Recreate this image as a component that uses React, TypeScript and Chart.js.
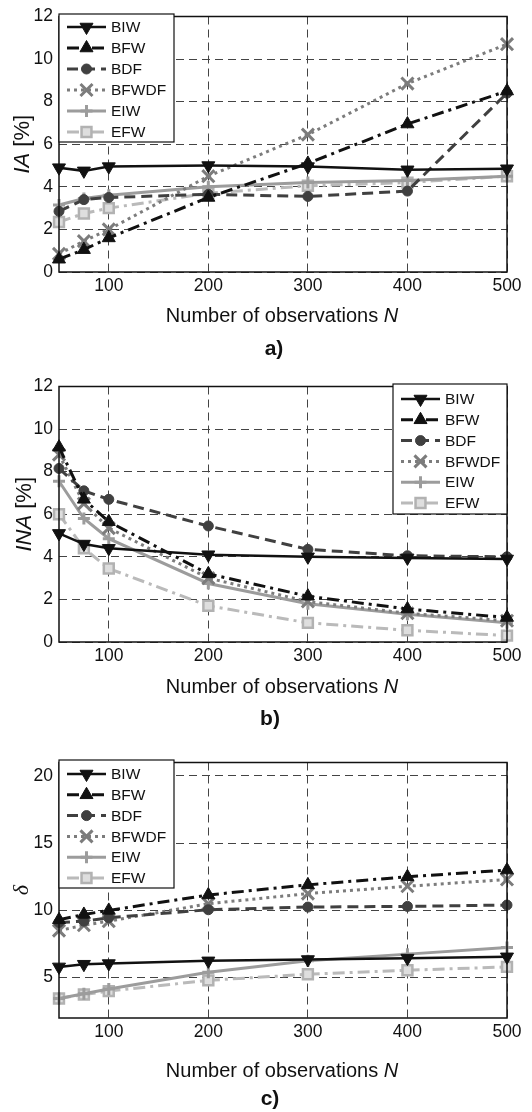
import React, { useEffect, useRef } from "react";
import { Chart, registerables } from "chart.js";

Chart.register(...registerables);

// ---------- DATA ----------
const N_VALUES = [50, 75, 100, 200, 300, 400, 500];
const X_TICKS = [100, 200, 300, 400, 500];
const SERIES_NAMES = ["BIW", "BFW", "BDF", "BFWDF", "EIW", "EFW"];

// a) IA [%]
const IA_BIW = [4.9, 4.75, 4.95, 5.0, 4.95, 4.8, 4.85];
const IA_BFW = [0.6, 1.05, 1.6, 3.5, 5.1, 6.95, 8.5];
const IA_BDF = [2.85, 3.4, 3.5, 3.65, 3.55, 3.8, 8.4];
const IA_BFWDF = [0.85, 1.45, 2.0, 4.5, 6.45, 8.85, 10.7];
const IA_EIW = [3.15, 3.45, 3.6, 4.0, 4.2, 4.3, 4.5];
const IA_EFW = [2.35, 2.75, 3.0, 3.7, 4.05, 4.2, 4.5];
const IA_TICKS = [0, 2, 4, 6, 8, 10, 12];

// b) INA [%]
const INA_BIW = [5.1, 4.6, 4.4, 4.1, 4.0, 3.95, 3.9];
const INA_BFW = [9.15, 6.7, 5.65, 3.2, 2.15, 1.55, 1.15];
const INA_BDF = [8.15, 7.1, 6.7, 5.45, 4.35, 4.05, 4.0];
const INA_BFWDF = [8.8, 6.5, 5.35, 3.0, 1.9, 1.35, 1.0];
const INA_EIW = [7.55, 5.8, 4.85, 2.75, 1.8, 1.3, 0.9];
const INA_EFW = [6.0, 4.4, 3.45, 1.7, 0.9, 0.55, 0.3];
const INA_TICKS = [0, 2, 4, 6, 8, 10, 12];

// c) delta
const D_BIW = [5.8, 6.0, 6.05, 6.25, 6.35, 6.45, 6.55];
const D_BFW = [9.3, 9.7, 10.0, 11.15, 11.9, 12.5, 13.0];
const D_BDF = [9.1, 9.2, 9.45, 10.05, 10.25, 10.3, 10.4];
const D_BFWDF = [8.5, 8.9, 9.2, 10.5, 11.25, 11.8, 12.3];
const D_EIW = [3.45, 3.8, 4.15, 5.4, 6.25, 6.75, 7.25];
const D_EFW = [3.45, 3.75, 4.0, 4.8, 5.25, 5.55, 5.8];
const D_TICKS = [5, 10, 15, 20];

// ---------- STYLES ----------
const FONT = "'Liberation Sans', Arial, Helvetica, sans-serif";
const STYLES = [
  { color: "#111", width: 2.5, dash: [], point: "triangle", rotation: 180, radius: 7.5, fill: "#111", pointColor: "#111", pointBorder: 1 },
  { color: "#111", width: 3, dash: [12, 5, 3, 5], point: "triangle", rotation: 0, radius: 7.5, fill: "#111", pointColor: "#111", pointBorder: 1 },
  { color: "#404040", width: 3, dash: [11, 6], point: "circle", rotation: 0, radius: 5, fill: "#404040", pointColor: "#404040", pointBorder: 1 },
  { color: "#7c7c7c", width: 3, dash: [3, 4], point: "crossRot", rotation: 0, radius: 8.5, fill: "#7c7c7c", pointColor: "#7c7c7c", pointBorder: 3 },
  { color: "#9c9c9c", width: 3, dash: [], point: "cross", rotation: 0, radius: 6, fill: "#9c9c9c", pointColor: "#9c9c9c", pointBorder: 3 },
  { color: "#bababa", width: 3, dash: [12, 5, 3, 5], point: "rect", rotation: 0, radius: 7, fill: "#dedede", pointColor: "#b2b2b2", pointBorder: 2.5 },
];

function drawMarker(ctx: CanvasRenderingContext2D, s: any, x: number, y: number) {
  ctx.save();
  ctx.setLineDash([]);
  ctx.strokeStyle = s.pointColor;
  ctx.fillStyle = s.fill;
  ctx.lineWidth = s.pointBorder;
  const r = s.radius;
  ctx.beginPath();
  if (s.point === "triangle") {
    const rot = (s.rotation * Math.PI) / 180;
    for (let k = 0; k < 3; k++) {
      const a = rot + (k * 2 * Math.PI) / 3;
      const px = x + Math.sin(a) * r;
      const py = y - Math.cos(a) * r;
      if (k === 0) ctx.moveTo(px, py);
      else ctx.lineTo(px, py);
    }
    ctx.closePath();
    ctx.fill();
    ctx.stroke();
  } else if (s.point === "circle") {
    ctx.arc(x, y, r, 0, Math.PI * 2);
    ctx.fill();
    ctx.stroke();
  } else if (s.point === "rect") {
    const h = r * Math.SQRT1_2;
    ctx.rect(x - h, y - h, 2 * h, 2 * h);
    ctx.fill();
    ctx.stroke();
  } else if (s.point === "cross") {
    ctx.moveTo(x - r, y);
    ctx.lineTo(x + r, y);
    ctx.moveTo(x, y - r);
    ctx.lineTo(x, y + r);
    ctx.stroke();
  } else if (s.point === "crossRot") {
    const d = r * Math.SQRT1_2;
    ctx.moveTo(x - d, y - d);
    ctx.lineTo(x + d, y + d);
    ctx.moveTo(x + d, y - d);
    ctx.lineTo(x - d, y + d);
    ctx.stroke();
  }
  ctx.restore();
}

type Panel = {
  key: string;
  top: number;
  height: number;
  series: number[][];
  yMin: number;
  yMax: number;
  yTicks: number[];
  yTitleParts: { text: string; italic: boolean; serif?: boolean }[];
  yTitleX: number;
  legend: { x: number; y: number; w: number; h: number; row0: number; step: number };
  titleY: number;
  label: string;
  labelX: number;
  labelY: number;
};

const PANELS: Panel[] = [
  {
    key: "a", top: 0, height: 370,
    series: [IA_BIW, IA_BFW, IA_BDF, IA_BFWDF, IA_EIW, IA_EFW],
    yMin: 0, yMax: 12, yTicks: IA_TICKS,
    yTitleParts: [{ text: "IA", italic: true }, { text: " [%]", italic: false }],
    yTitleX: 23,
    legend: { x: 59, y: 14, w: 115, h: 128, row0: 27, step: 21 },
    titleY: 322, label: "a)", labelX: 274, labelY: 355,
  },
  {
    key: "b", top: 370, height: 376,
    series: [INA_BIW, INA_BFW, INA_BDF, INA_BFWDF, INA_EIW, INA_EFW],
    yMin: 0, yMax: 12, yTicks: INA_TICKS,
    yTitleParts: [{ text: "INA", italic: true }, { text: " [%]", italic: false }],
    yTitleX: 25,
    legend: { x: 393, y: 14, w: 114, h: 130, row0: 29, step: 20.8 },
    titleY: 323, label: "b)", labelX: 270, labelY: 355,
  },
  {
    key: "c", top: 746, height: 366,
    series: [D_BIW, D_BFW, D_BDF, D_BFWDF, D_EIW, D_EFW],
    yMin: 2, yMax: 21, yTicks: D_TICKS,
    yTitleParts: [{ text: "δ", italic: true, serif: true }],
    yTitleX: 22,
    legend: { x: 59, y: 14, w: 115, h: 128, row0: 28, step: 20.8 },
    titleY: 331, label: "c)", labelX: 270, labelY: 359,
  },
];

function makeDecor(p: Panel) {
  return {
    id: "decor_" + p.key,
    afterDatasetsDraw(chart: any) {
      const ctx: CanvasRenderingContext2D = chart.ctx;
      const a = chart.chartArea;
      // frame
      ctx.save();
      ctx.setLineDash([]);
      ctx.strokeStyle = "#111";
      ctx.lineWidth = 1.5;
      ctx.strokeRect(a.left, a.top, a.right - a.left, a.bottom - a.top);
      // legend
      const L = p.legend;
      ctx.fillStyle = "#fff";
      ctx.fillRect(L.x, L.y, L.w, L.h);
      ctx.lineWidth = 1.2;
      ctx.strokeStyle = "#111";
      ctx.strokeRect(L.x, L.y, L.w, L.h);
      SERIES_NAMES.forEach((name, i) => {
        const s = STYLES[i];
        const y = L.row0 + i * L.step;
        ctx.save();
        ctx.strokeStyle = s.color;
        ctx.lineWidth = s.width;
        ctx.setLineDash(s.dash);
        ctx.beginPath();
        ctx.moveTo(L.x + 8, y);
        ctx.lineTo(L.x + 47, y);
        ctx.stroke();
        ctx.restore();
        drawMarker(ctx, s, L.x + 27.5, y);
        ctx.fillStyle = "#111";
        ctx.font = "15.5px " + FONT;
        ctx.textAlign = "left";
        ctx.textBaseline = "middle";
        ctx.fillText(name, L.x + 52, y + 1);
      });
      ctx.restore();
    },
    afterDraw(chart: any) {
      const ctx: CanvasRenderingContext2D = chart.ctx;
      const a = chart.chartArea;
      ctx.save();
      ctx.fillStyle = "#111";
      // x title
      const p1 = "Number of observations ";
      const p2 = "N";
      ctx.font = "20px " + FONT;
      const w1 = ctx.measureText(p1).width;
      ctx.font = "italic 20px " + FONT;
      const w2 = ctx.measureText(p2).width;
      const cx = (a.left + a.right) / 2 - 1;
      const x0 = cx - (w1 + w2) / 2;
      ctx.textBaseline = "alphabetic";
      ctx.textAlign = "left";
      ctx.font = "20px " + FONT;
      ctx.fillText(p1, x0, p.titleY);
      ctx.font = "italic 20px " + FONT;
      ctx.fillText(p2, x0 + w1, p.titleY);
      // panel label
      ctx.font = "bold 21px " + FONT;
      ctx.textAlign = "center";
      ctx.fillText(p.label, p.labelX, p.labelY);
      // y title (rotated)
      const fontOf = (part: any) =>
        (part.italic ? "italic " : "") + "22px " + (part.serif ? "'Liberation Serif', 'DejaVu Serif', serif" : FONT);
      let total = 0;
      const widths = p.yTitleParts.map((part) => {
        ctx.font = fontOf(part);
        const w = ctx.measureText(part.text).width;
        total += w;
        return w;
      });
      ctx.translate(p.yTitleX, (a.top + a.bottom) / 2);
      ctx.rotate(-Math.PI / 2);
      ctx.textAlign = "left";
      ctx.textBaseline = "middle";
      let xx = -total / 2;
      p.yTitleParts.forEach((part, i) => {
        ctx.font = fontOf(part);
        ctx.fillText(part.text, xx, 0);
        xx += widths[i];
      });
      ctx.restore();
    },
  };
}

function PanelChart({ p }: { p: Panel }) {
  const ref = useRef<HTMLCanvasElement | null>(null);
  useEffect(() => {
    if (!ref.current) return;
    const datasets = SERIES_NAMES.map((name, i) => {
      const s = STYLES[i];
      return {
        label: name,
        data: N_VALUES.map((x, j) => ({ x, y: p.series[i][j] })),
        borderColor: s.color,
        borderWidth: s.width,
        borderDash: s.dash,
        pointStyle: s.point,
        pointRotation: s.rotation,
        pointRadius: s.radius,
        pointBackgroundColor: s.fill,
        pointBorderColor: s.pointColor,
        pointBorderWidth: s.pointBorder,
        tension: 0,
        fill: false,
        clip: false,
      };
    });
    const chart = new Chart(ref.current, {
      type: "line",
      data: { datasets } as any,
      options: {
        animation: false,
        responsive: false,
        events: [],
        layout: { padding: { top: 14, right: 25, left: 0, bottom: 0 } },
        plugins: { legend: { display: false }, tooltip: { enabled: false } },
        scales: {
          x: {
            type: "linear",
            min: 50,
            max: 500,
            afterBuildTicks: (scale: any) => {
              scale.ticks = X_TICKS.map((v) => ({ value: v }));
            },
            afterFit: (scale: any) => {
              scale.height = p.height - 272;
            },
            grid: { color: "#444", lineWidth: 1, drawTicks: false },
            border: { display: false, dash: [8, 5] },
            ticks: {
              padding: 4,
              color: "#111",
              font: { family: FONT, size: 17.5 },
              callback: (v: any) => String(v),
            },
          },
          y: {
            type: "linear",
            min: p.yMin,
            max: p.yMax,
            afterBuildTicks: (scale: any) => {
              scale.ticks = p.yTicks.map((v) => ({ value: v }));
            },
            afterFit: (scale: any) => {
              scale.width = 59;
            },
            grid: { color: "#444", lineWidth: 1, drawTicks: false },
            border: { display: false, dash: [8, 5] },
            ticks: {
              padding: 6,
              color: "#111",
              font: { family: FONT, size: 17.5 },
              callback: (v: any) => String(v),
            },
          },
        },
      } as any,
      plugins: [makeDecor(p)],
    });
    return () => chart.destroy();
  }, [p]);
  return (
    <canvas
      ref={ref}
      width={532}
      height={p.height}
      style={{ position: "absolute", left: 0, top: p.top, width: 532, height: p.height, display: "block" }}
    />
  );
}

export default function App() {
  return (
    <div style={{ position: "absolute", left: 0, top: 0, width: 532, height: 1112, background: "#fff", overflow: "hidden" }}>
      {PANELS.map((p) => (
        <PanelChart key={p.key} p={p} />
      ))}
    </div>
  );
}
